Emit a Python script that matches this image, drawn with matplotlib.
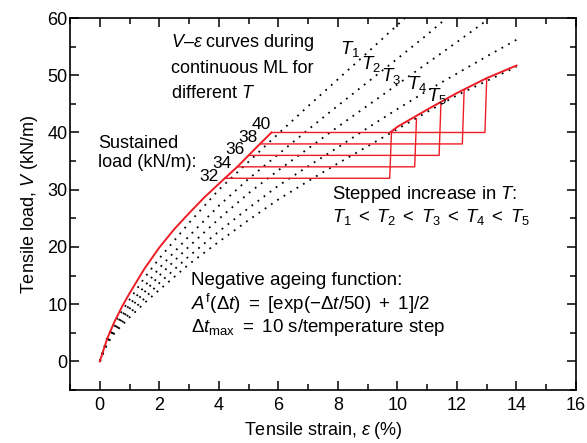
import numpy as np
import matplotlib
matplotlib.use("Agg")
import matplotlib.pyplot as plt
from matplotlib.ticker import MultipleLocator

plt.rcParams["font.family"] = ["Liberation Sans", "DejaVu Sans"]
plt.rcParams["mathtext.fontset"] = "custom"
plt.rcParams["mathtext.rm"] = "Liberation Sans"
plt.rcParams["mathtext.it"] = "Liberation Sans:italic"
plt.rcParams["mathtext.bf"] = "Liberation Sans:bold"

# continuous ML curves for T1..T5 (strain %, load kN/m)
t1_eps = [0, 0.25, 0.5, 1, 1.5, 2, 3, 4, 5, 6, 7, 8, 9, 10, 10.25]
t1_v = [0, 4.2, 6.8, 10.8, 14.6, 18.0, 24.2, 30.0, 34.9, 39.8, 44.6, 49.3, 54.0, 58.8, 60]
t2_eps = [0, 0.25, 0.5, 1, 1.5, 2, 3, 4, 5, 6, 7, 8, 9, 10, 11, 11.65]
t2_v = [0, 3.9, 6.1, 9.9, 13.1, 16.3, 21.9, 27.2, 31.9, 36.2, 40.5, 44.7, 48.8, 52.9, 57.1, 60]
t3_eps = [0, 0.25, 0.5, 1, 1.5, 2, 3, 4, 5, 6, 7, 8, 9, 10, 11, 12, 13, 13.05]
t3_v = [0, 3.6, 5.7, 9.2, 12.1, 15.0, 20.1, 24.9, 29.4, 33.4, 37.2, 41.0, 44.7, 48.4, 52.1, 55.8, 59.6, 60]
t4_eps = [0, 0.25, 0.5, 1, 1.5, 2, 3, 4, 5, 6, 7, 8, 9, 10, 11, 12, 13, 14]
t4_v = [0, 3.3, 5.3, 8.4, 11.0, 13.7, 18.4, 22.7, 26.8, 30.7, 34.1, 37.4, 40.8, 44.1, 47.3, 50.3, 53.3, 56.2]
t5_eps = [0, 0.25, 0.5, 1, 1.5, 2, 3, 4, 5, 6, 7, 8, 9, 10, 11, 12, 13, 14]
t5_v = [0, 3.1, 5.0, 7.7, 10.2, 12.5, 17.0, 20.9, 24.7, 28.3, 31.5, 34.6, 37.6, 40.6, 43.6, 46.5, 49.0, 51.5]

# red: loading at T1, sustained loads, stepped T, final branch on T5
load_eps = [0, 0.25, 0.5, 0.75, 1.0, 1.5, 2.0, 2.5, 3.0, 3.5, 4.2, 4.62, 5.0, 5.38, 5.77]
load_v = [0, 4.0, 7.0, 9.6, 11.9, 16.2, 19.9, 23.1, 25.9, 28.6, 32.0, 34.0, 36.0, 38.0, 40.0]
sustained = [32, 34, 36, 38, 40]
hold_start = [4.20, 4.62, 5.00, 5.38, 5.77]
hold_end = [9.74, 10.58, 11.40, 12.18, 12.94]
step_top = [40.1, 42.4, 44.9, 47.3, 49.5]
final_eps = [9.78, 10, 11, 12, 13, 14]
final_v = [40.1, 41.0, 44.0, 46.9, 49.5, 51.7]
label_pos = [(3.68, 32.3), (4.10, 34.6), (4.54, 37.1), (4.97, 39.1), (5.44, 41.4)]

red = "#ee1c25"
fs = 13

fig = plt.figure(figsize=(5.87, 4.43), dpi=100)
ax = fig.add_axes([0.1193, 0.1196, 0.862, 0.8397])

dots = (0, (1, 3.2))
for e, v in [(t1_eps, t1_v), (t2_eps, t2_v), (t3_eps, t3_v), (t4_eps, t4_v), (t5_eps, t5_v)]:
    ax.plot(e, v, color="black", lw=1.3, linestyle=dots)

ax.plot(load_eps, load_v, color=red, lw=1.4)
for p, s, e, top in zip(sustained, hold_start, hold_end, step_top):
    ax.plot([s, e, e + 0.06], [p, p, top], color=red, lw=1.0)
ax.plot(final_eps, final_v, color=red, lw=1.4)

# load labels
for p, (x, y) in zip(sustained, label_pos):
    ax.text(x, y, str(p), ha="center", va="center", fontsize=fs - 0.5)

t_labels = ["$T_1$", "$T_2$", "$T_3$", "$T_4$", "$T_5$"]
t_pos = [(8.4, 54.6), (9.1, 51.9), (9.8, 49.8), (10.65, 48.4), (11.32, 46.3)]
for lab, (x, y) in zip(t_labels, t_pos):
    ax.text(x, y, lab, ha="center", va="center", fontsize=fs + 0.5)

ax.text(2.4, 51.45, "$V$–$\\varepsilon$ curves during\ncontinuous ML for\ndifferent $T$",
        ha="left", va="center", fontsize=fs, linespacing=1.6)
ax.text(-0.05, 36.4, "Sustained\nload (kN/m):", ha="left", va="center", fontsize=fs,
        linespacing=1.2)
ax.text(7.79, 27.3, "Stepped increase in $T$:\n"
        "$T_1\\;<\\;T_2\\;<\\;T_3\\;<\\;T_4\\;<\\;T_5$",
        ha="left", va="center", fontsize=fs + 0.3, linespacing=1.15)
ax.text(3.05, 9.8, "Negative ageing function:\n"
        "$A^{\\mathrm{f}}(\\Delta t)\\ =\\ [\\mathrm{exp}(-\\Delta t/50)\\ +\\ 1]/2$\n"
        "$\\Delta t_{\\mathrm{max}}\\ =$ 10 s/temperature step",
        ha="left", va="center", fontsize=fs + 0.5, linespacing=1.12)

ax.set_xlim(-1, 16)
ax.set_ylim(-5, 60)
ax.xaxis.set_major_locator(MultipleLocator(2))
ax.xaxis.set_minor_locator(MultipleLocator(1))
ax.yaxis.set_major_locator(MultipleLocator(10))
ax.yaxis.set_minor_locator(MultipleLocator(5))
ax.tick_params(which="both", direction="in", top=True, right=True, width=1.1,
               labelsize=fs)
ax.tick_params(which="major", length=6.5)
ax.tick_params(which="minor", length=4)
ax.tick_params(axis="y", pad=2)
ax.tick_params(axis="x", pad=5)
for sp in ax.spines.values():
    sp.set_linewidth(1.2)

ax.set_xlabel("Tensile strain, $\\varepsilon$ (%)", fontsize=fs, labelpad=4)
ax.set_ylabel("Tensile load, $V$ (kN/m)", fontsize=fs, labelpad=5)

fig.savefig("out.png", dpi=100)
